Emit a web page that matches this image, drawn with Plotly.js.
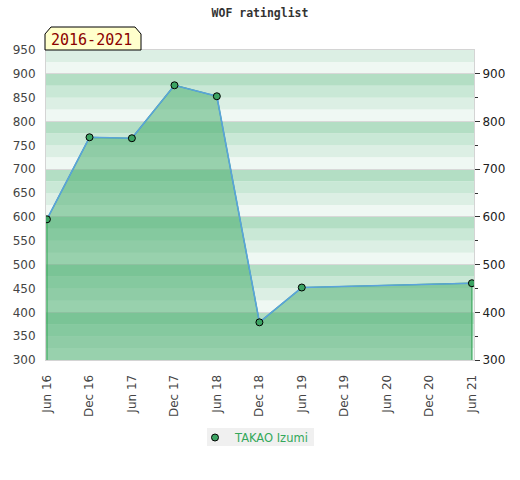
<!DOCTYPE html>
<html>
<head>
<meta charset="utf-8">
<script src="https://cdn.plot.ly/plotly-3.0.1.min.js"></script>
<style>html,body{margin:0;padding:0;background:#fff;}#chart{width:520px;height:480px;}</style>
</head>
<body>
<div id="chart"></div>
<script>
// ---- data ----
var dates = ['2016-06-01','2016-12-01','2017-06-01','2017-12-01','2018-06-01','2018-12-01','2019-06-01','2021-06-01'];
var ratings = [595, 767, 765, 876, 853, 379, 452, 461];
var playerName = 'TAKAO Izumi';
var periodLabel = '2016-2021';
var chartTitle = 'WOF ratinglist';
var tickDates = ['2016-06-01','2016-12-01','2017-06-01','2017-12-01','2018-06-01','2018-12-01','2019-06-01','2019-12-01','2020-06-01','2020-12-01','2021-06-01'];
var tickLabels = ['Jun 16','Dec 16','Jun 17','Dec 17','Jun 18','Dec 18','Jun 19','Dec 19','Jun 20','Dec 20','Jun 21'];

// ---- layout constants ----
var W = 520, H = 480, L = 46, R = 46, T = 50, B = 120;
var PW = W - L - R, PH = H - T - B;
var yMin = 300, yMax = 950;
function px(x){ return (x - L) / PW; }
function py(y){ return (T + PH - y) / PH; }

// background bands
var bandColors = ['#eff8f3', '#dcefe4', '#c9e8d6', '#b3dec4']; // bottom->top within each 100
var shapes = [];
for (var v = yMin; v < yMax; v += 25) {
  var idx = Math.round(((v % 100) + 100) % 100 / 25);
  shapes.push({type:'rect', xref:'paper', yref:'y', x0:0, x1:1, y0:v, y1:v+25,
    fillcolor: bandColors[idx], line:{width:0}, layer:'below'});
}
// badge
var bx0 = px(45), bx1 = px(141), bxc0 = px(51), bxc1 = px(135);
var by0 = py(50), byc = py(34), by1 = py(27);
shapes.push({type:'path', xref:'paper', yref:'paper',
  path: 'M '+bx0+' '+by0+' L '+bx0+' '+byc+' L '+bxc0+' '+by1+' L '+bxc1+' '+by1+' L '+bx1+' '+byc+' L '+bx1+' '+by0+' Z',
  fillcolor:'#ffffcc', line:{color:'#000', width:1}, layer:'above'});
// legend background box
shapes.push({type:'rect', xref:'paper', yref:'paper', x0:px(207), x1:px(314), y0:py(446), y1:py(428),
  fillcolor:'#f0f0f0', line:{width:0}, layer:'below'});

// fill polygon built from data
var fillX = [dates[0]].concat(dates).concat([dates[dates.length-1]]);
var fillY = [0].concat(ratings).concat([0]);

var traces = [
  {x: fillX, y: fillY, type:'scatter', mode:'lines', fill:'toself',
   fillcolor:'rgba(66,170,104,0.5)', line:{color:'#3aa85c', width:1.2},
   showlegend:false, hoverinfo:'skip'},
  {x: dates, y: ratings, type:'scatter', mode:'lines',
   line:{color:'#5aa3dc', width:1.6}, showlegend:false},
  {x: dates, y: ratings, type:'scatter', mode:'markers', name: playerName,
   marker:{size:7, color:'#3ca463', line:{color:'#000', width:1}}},
  {x: [dates[0]], y: [ratings[0]], yaxis:'y2', type:'scatter', mode:'markers',
   marker:{opacity:0}, showlegend:false, hoverinfo:'skip'}
];

var layout = {
  width: W, height: H,
  margin: {l:L, r:R, t:T, b:B, pad:0},
  paper_bgcolor:'#fff', plot_bgcolor:'#fff',
  font: {family:'DejaVu Sans', size:12, color:'#444'},
  title: {text: chartTitle, x:0.5, xanchor:'center', y: 1 - 13/H, yanchor:'middle',
    font:{family:'DejaVu Sans Mono', size:11.5, color:'#333', weight:'bold'}},
  xaxis: {type:'date', range:['2016-05-28','2021-06-10'],
    tickvals: tickDates, ticktext: tickLabels, tickangle:-90,
    ticks:'outside', ticklen:9, tickcolor:'rgba(0,0,0,0)',
    showgrid:false, zeroline:false, showline:true, linecolor:'#d4d4d4', mirror:true,
    tickfont:{size:12, color:'#444'}, fixedrange:true},
  yaxis: {range:[yMin, yMax], dtick:50, tick0:0,
    ticks:'outside', ticklen:7, tickcolor:'rgba(0,0,0,0)',
    showgrid:false, zeroline:false, showline:true, linecolor:'#d4d4d4', mirror:true,
    tickfont:{size:12, color:'#444'}},
  yaxis2: {range:[yMin, yMax], overlaying:'y', side:'right',
    tickvals:[300,400,500,600,700,800,900], ticks:'outside', ticklen:5, tickcolor:'#333',
    minor:{tickvals:[350,450,550,650,750,850], ticks:'outside', ticklen:3, tickcolor:'#333'},
    showgrid:true, gridcolor:'#d8d8d8', gridwidth:1, zeroline:false, showline:false,
    tickfont:{size:12, color:'#222'}},
  shapes: shapes,
  annotations: [{xref:'paper', yref:'paper', x: px(91), y: py(40), xanchor:'center', yanchor:'middle',
    text: periodLabel, showarrow:false,
    font:{family:'DejaVu Sans Mono', size:15, color:'#8b0000'}}],
  legend: {orientation:'h', x: px(195), xanchor:'left', y: py(423), yanchor:'top',
    bgcolor:'rgba(0,0,0,0)', font:{size:11.5, color:'#34a85a'}},
  showlegend: true
};

Plotly.newPlot('chart', traces, layout, {displayModeBar:false, staticPlot:true});
</script>
</body>
</html>
